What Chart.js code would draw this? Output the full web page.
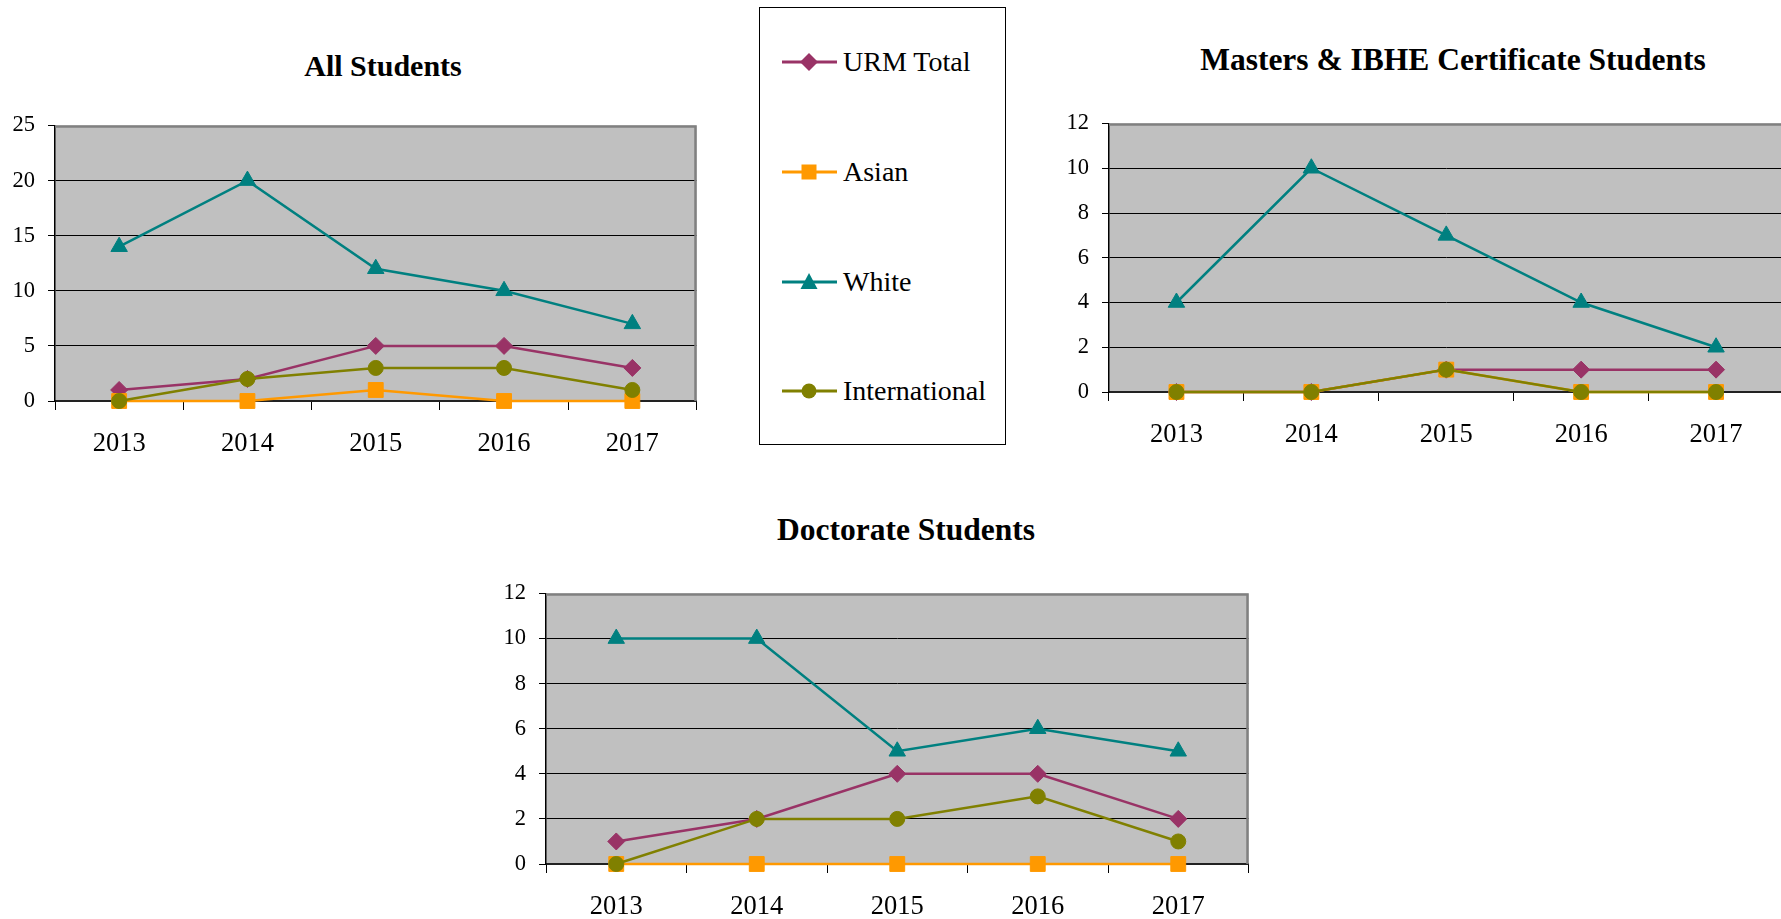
<!DOCTYPE html>
<html>
<head>
<meta charset="utf-8">
<script src="https://cdn.jsdelivr.net/npm/chart.js@4.4.0/dist/chart.umd.min.js"></script>
<style>
html,body{margin:0;padding:0;width:1781px;height:919px;overflow:hidden;background:#fff;font-family:'Liberation Serif',serif;position:relative;}
canvas{position:absolute;display:block;}
.title{position:absolute;width:800px;text-align:center;font-weight:bold;font-size:30px;line-height:28px;color:#000;white-space:nowrap;}
.legend{position:absolute;left:759px;top:7px;width:247px;height:438px;border:1px solid #000;box-sizing:border-box;}
.lg-sym{position:absolute;left:780px;width:60px;height:24px;}
.lg-txt{position:absolute;left:843px;font-size:28px;line-height:28px;color:#000;white-space:nowrap;}
</style>
</head>
<body>
<div class="title" style="left:-17px;top:52px;">All Students</div>
<div class="title" style="left:1053px;top:46px;font-size:31.5px;">Masters &amp; IBHE Certificate Students</div>
<div class="title" style="left:506px;top:516px;font-size:31.5px;">Doctorate Students</div>
<div class="legend"></div>
<div id="legendItems"></div>
<canvas id="c1" width="700" height="345"></canvas>
<canvas id="c2" width="733" height="338"></canvas>
<canvas id="c3" width="762" height="340"></canvas>
<script>
// ---- data ----
const years = ['2013', '2014', '2015', '2016', '2017'];
const seriesNames = ['URM Total', 'Asian', 'White', 'International'];

const allURM = [1, 2, 5, 5, 3];
const allAsian = [0, 0, 1, 0, 0];
const allWhite = [14, 20, 12, 10, 7];
const allIntl = [0, 2, 3, 3, 1];

const mastersURM = [0, 0, 1, 1, 1];
const mastersAsian = [0, 0, 1, 0, 0];
const mastersWhite = [4, 10, 7, 4, 2];
const mastersIntl = [0, 0, 1, 0, 0];

const doctorateURM = [1, 2, 4, 4, 2];
const doctorateAsian = [0, 0, 0, 0, 0];
const doctorateWhite = [10, 10, 5, 6, 5];
const doctorateIntl = [0, 2, 2, 3, 1];

const allTicks = {min: 0, max: 25, step: 5};
const subTicks = {min: 0, max: 12, step: 2};

// ---- styles ----
const colors = ['#993366', '#FF9900', '#008080', '#808000'];
const pStyles = ['rectRot', 'rect', 'triangle', 'circle'];
const pRadius = [8.5, 10.5, 9.5, 7.5];

Chart.defaults.font.family = "'Liberation Serif', serif";
Chart.defaults.color = '#000';

const plotBg = {
  id: 'plotBg',
  beforeDraw(chart) {
    const {ctx, chartArea: a} = chart;
    ctx.save();
    ctx.fillStyle = '#C0C0C0';
    ctx.fillRect(a.left, a.top, a.right - a.left, a.bottom - a.top);
    ctx.restore();
  },
  beforeDatasetsDraw(chart) {
    const {ctx, chartArea: a} = chart;
    ctx.save();
    ctx.strokeStyle = '#808080';
    ctx.lineWidth = 2.5;
    ctx.beginPath();
    ctx.moveTo(a.left, a.top + 1);
    ctx.lineTo(a.right - 1, a.top + 1);
    ctx.lineTo(a.right - 1, a.bottom);
    ctx.stroke();
    ctx.restore();
  }
};

function buildConfig(series, tk) {
  const datasets = series.map((vals, i) => ({
    label: seriesNames[i],
    data: vals,
    borderColor: colors[i],
    backgroundColor: colors[i],
    pointBackgroundColor: colors[i],
    pointBorderColor: colors[i],
    pointBorderWidth: 1,
    pointStyle: pStyles[i],
    pointRadius: pRadius[i],
    pointHoverRadius: pRadius[i],
    borderWidth: 2.5,
    tension: 0,
    clip: false,
    order: 3 - i
  }));
  return {
    type: 'line',
    data: {labels: years, datasets},
    plugins: [plotBg],
    options: {
      responsive: false,
      animation: false,
      events: [],
      layout: {padding: {top: 0, right: 4, left: 0, bottom: 0}},
      plugins: {legend: {display: false}, tooltip: {enabled: false}, title: {display: false}},
      scales: {
        x: {
          type: 'category',
          offset: true,
          grid: {offset: true, drawOnChartArea: false, drawTicks: true, tickLength: 9, tickColor: '#000', color: '#000', lineWidth: 1},
          border: {display: true, color: '#222', width: 2},
          ticks: {font: {size: 26.5}, color: '#000', padding: 18, maxRotation: 0, autoSkip: false},
          afterFit(s) { s.height = 62; }
        },
        y: {
          min: tk.min, max: tk.max,
          grid: {
            drawTicks: true, tickLength: 7, tickColor: '#000', lineWidth: 1,
            color: (c) => (c.tick && c.tick.value >= tk.max) ? 'rgba(0,0,0,0)' : '#000'
          },
          border: {display: true, color: '#000', width: 1.5},
          ticks: {stepSize: tk.step, font: {size: 22.5}, color: '#000', padding: 13},
          afterFit(s) { s.width = 55; }
        }
      }
    }
  };
}

// place a chart so its plot area lands on the rectangle measured in the reference
function placeChart(id, series, tk, L, T, R, B) {
  const cv = document.getElementById(id);
  let w = R - L + 80, h = B - T + 100;
  cv.width = w; cv.height = h;
  cv.style.width = w + 'px'; cv.style.height = h + 'px';
  let ch = new Chart(cv, buildConfig(series, tk));
  const a = ch.chartArea;
  const offL = a.left, offT = a.top, offR = w - a.right, offB = h - a.bottom;
  ch.destroy();
  w = Math.round(offL + (R - L) + offR);
  h = Math.round(offT + (B - T) + offB);
  cv.width = w; cv.height = h;
  cv.style.width = w + 'px'; cv.style.height = h + 'px';
  cv.style.left = (L - offL) + 'px';
  cv.style.top = (T - offT) + 'px';
  return new Chart(cv, buildConfig(series, tk));
}

placeChart('c1', [allURM, allAsian, allWhite, allIntl], allTicks, 55, 125, 696, 400);
placeChart('c2', [mastersURM, mastersAsian, mastersWhite, mastersIntl], subTicks, 1109, 123, 1783, 391);
placeChart('c3', [doctorateURM, doctorateAsian, doctorateWhite, doctorateIntl], subTicks, 546, 593, 1248, 863);

// ---- legend (separate box) ----
const legendY = [62, 172, 282, 391];
function symbolSvg(i) {
  const c = colors[i];
  let shape = '';
  if (pStyles[i] === 'rectRot') shape = `<polygon points="29,3 38,12 29,21 20,12" fill="${c}"/>`;
  else if (pStyles[i] === 'rect') shape = `<rect x="21.5" y="4.5" width="15" height="15" fill="${c}"/>`;
  else if (pStyles[i] === 'triangle') shape = `<polygon points="29,3 37.5,19 20.5,19" fill="${c}"/>`;
  else shape = `<circle cx="29" cy="12" r="7.5" fill="${c}"/>`;
  return `<svg width="60" height="24" viewBox="0 0 60 24"><line x1="2" y1="12" x2="57" y2="12" stroke="${c}" stroke-width="3"/>${shape}</svg>`;
}
const li = document.getElementById('legendItems');
seriesNames.forEach((n, i) => {
  const s = document.createElement('div');
  s.className = 'lg-sym';
  s.style.top = (legendY[i] - 12) + 'px';
  s.innerHTML = symbolSvg(i);
  li.appendChild(s);
  const t = document.createElement('div');
  t.className = 'lg-txt';
  t.style.top = (legendY[i] - 14) + 'px';
  t.textContent = n;
  li.appendChild(t);
});
</script>
</body>
</html>
